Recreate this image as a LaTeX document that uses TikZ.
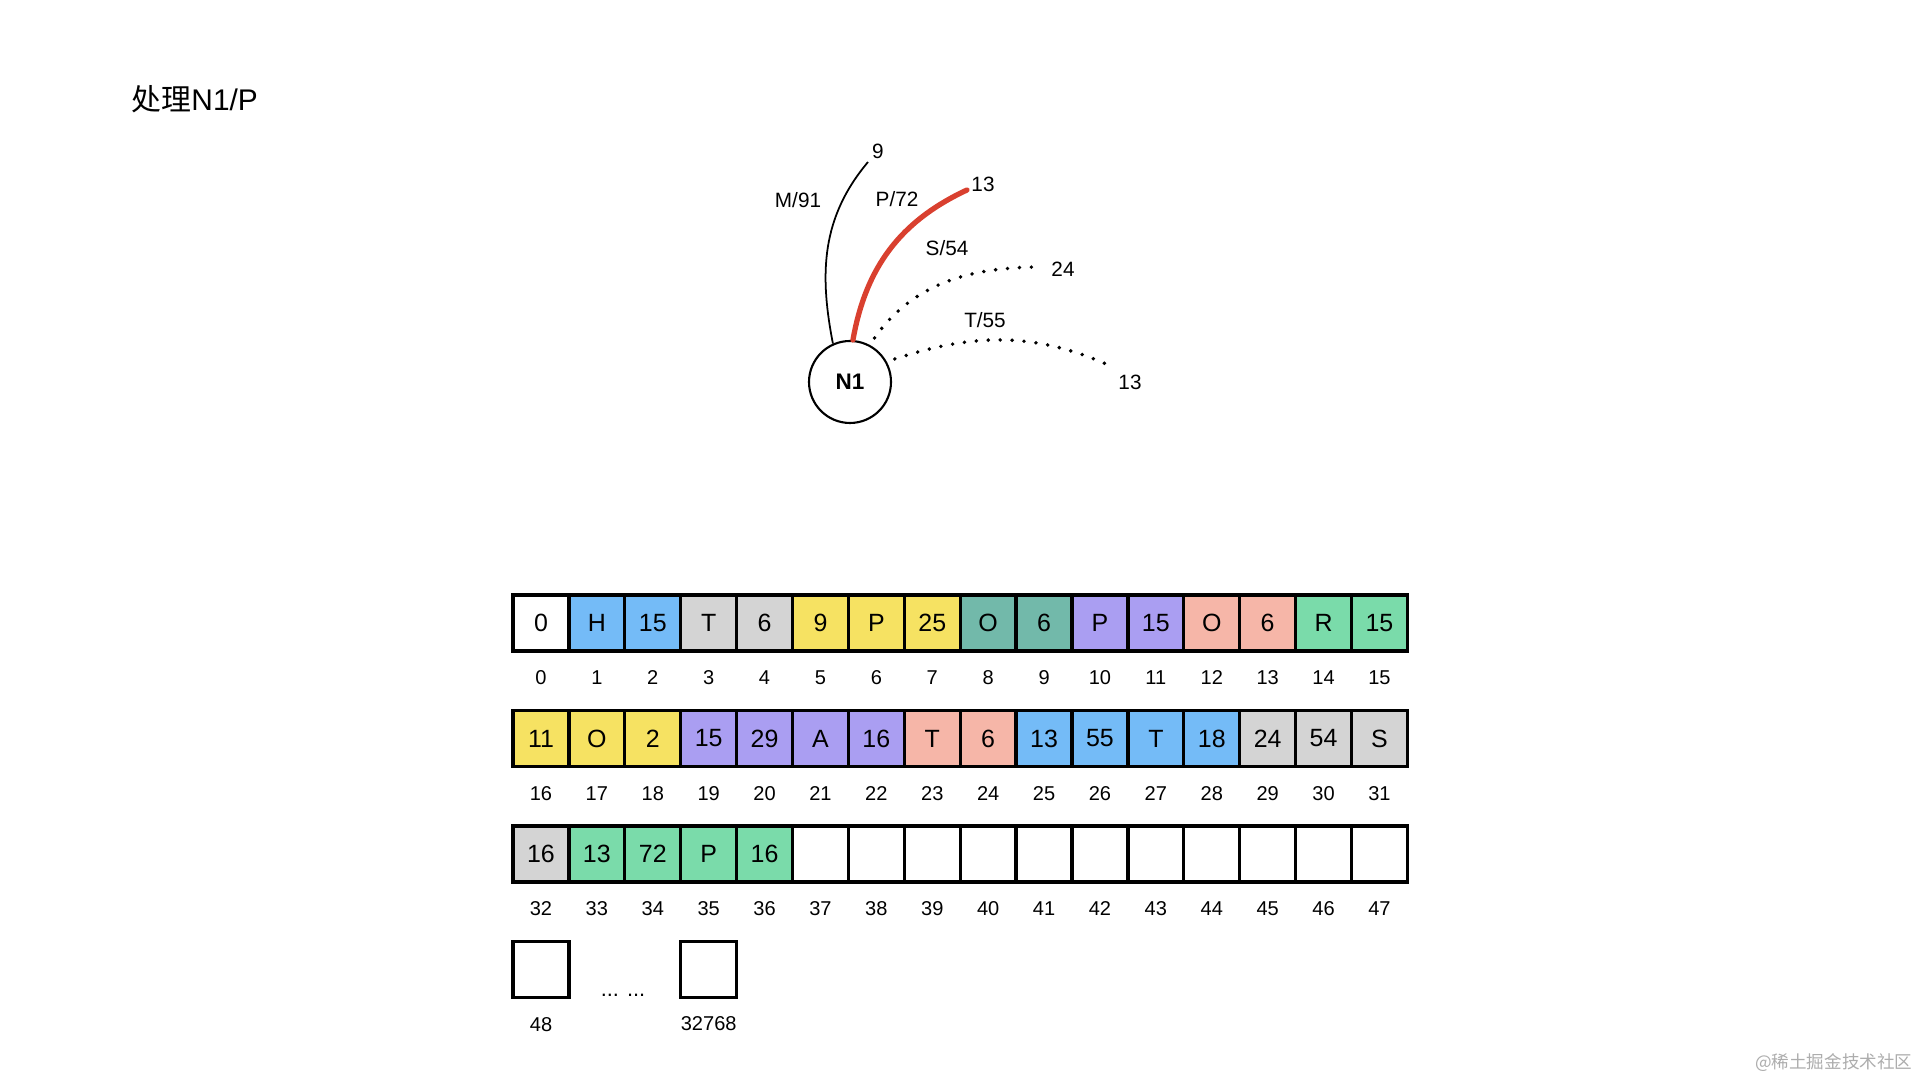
\documentclass[tikz,border=0pt]{standalone}
\usepackage{fontspec}
\setmainfont{Liberation Sans}
\newfontfamily\cjk{Noto Sans CJK SC}
\definecolor{CellBlue}{RGB}{116, 187, 247}
\definecolor{CellGray}{RGB}{212, 212, 212}
\definecolor{CellYellow}{RGB}{246, 226, 98}
\definecolor{CellTeal}{RGB}{114, 185, 170}
\definecolor{CellPurple}{RGB}{170, 158, 242}
\definecolor{CellSalmon}{RGB}{246, 182, 168}
\definecolor{CellGreen}{RGB}{122, 219, 170}
\definecolor{EdgeRed}{RGB}{217, 64, 47}
\usepackage{tikz}
\usetikzlibrary{positioning}

\begin{document}
\begin{tikzpicture}[
    cell/.style={draw, line width=0.95pt, minimum size=0.559cm, inner sep=0pt,
                 font=\fontsize{7.1}{8}\selectfont},
    idx/.style={inner sep=1pt, font=\fontsize{5.7}{6.5}\selectfont},
    lbl/.style={inner sep=1pt, font=\fontsize{5.9}{7}\selectfont},
    dots/.style={line width=1.1pt, line cap=round, dash pattern=on 0pt off 3.4pt}]
        \useasboundingbox (0,0) rectangle (19.2,10.8);
        \fill[white] (0,0) rectangle (19.2,10.8);
        \node[anchor=west, inner sep=0pt, font=\fontsize{8.5}{10}\selectfont] (title)
             at (1.31, 9.81) {{\cjk 处理}N1/P};
        % trie node and its edges
        \node[draw, circle, line width=0.6pt, minimum size=0.82cm, inner sep=0pt,
              font=\bfseries\fontsize{6.4}{7}\selectfont] (n1) at (8.50, 6.98) {N1};
        \node[lbl] (t9)   at (8.78, 9.29)  {9};
        \node[lbl] (tm)   at (7.98, 8.80)  {M/91};
        \node[lbl] (tp)   at (8.97, 8.81)  {P/72};
        \node[lbl] (t13a) at (9.83, 8.96)  {13};
        \node[lbl] (ts)   at (9.47, 8.32)  {S/54};
        \node[lbl] (t24)  at (10.63, 8.11) {24};
        \node[lbl] (tt)   at (9.85, 7.60)  {T/55};
        \node[lbl] (t13b) at (11.30, 6.98) {13};
        \coordinate (mEnd) at (8.68, 9.18);
        \coordinate (pEnd) at (9.67, 8.90);
        \coordinate (sEnd) at (10.42, 8.13);
        \coordinate (tEnd) at (11.15, 7.12);
        \draw[line width=0.5pt] (n1.114) to[out=101, in=230] (mEnd);
        \draw[EdgeRed, line width=1.5pt, line cap=round] (n1.86) to[out=80, in=205] (pEnd);
        \draw[dots, shorten <=2.4pt] (n1.62) to[out=55, in=180] (sEnd);
        \draw[dots, shorten <=2.4pt] (n1.29) to[out=18, in=155] (tEnd);
        % the array
        \foreach \txt/\col [count=\k from 0] in {0/white, H/CellBlue, 15/CellBlue,
            T/CellGray, 6/CellGray, 9/CellYellow, P/CellYellow, 25/CellYellow,
            O/CellTeal, 6/CellTeal, P/CellPurple, 15/CellPurple, O/CellSalmon,
            6/CellSalmon, R/CellGreen, 15/CellGreen,
            11/CellYellow, O/CellYellow, 2/CellYellow, 15/CellPurple, 29/CellPurple,
            A/CellPurple, 16/CellPurple, T/CellSalmon, 6/CellSalmon, 13/CellBlue,
            55/CellBlue, T/CellBlue, 18/CellBlue, 24/CellGray, 54/CellGray, S/CellGray,
            16/CellGray, 13/CellGreen, 72/CellGreen, P/CellGreen, 16/CellGreen} {
            \pgfmathtruncatemacro{\cx}{mod(\k,16)}
            \pgfmathtruncatemacro{\ry}{\k/16}
            \node[cell, fill=\col] (c\k) at ({5.13+0.559*(\cx+0.5)}, {4.57-1.155*\ry}) {\txt};
            \node[idx] (i\k) at ({5.13+0.559*(\cx+0.5)}, {4.02-1.155*\ry}) {\k};
        }
        \foreach \k in {37,...,47} {
            \pgfmathtruncatemacro{\cx}{mod(\k,16)}
            \node[cell, fill=white] (c\k) at ({5.13+0.559*(\cx+0.5)}, 2.26) {};
            \node[idx] (i\k) at ({5.13+0.559*(\cx+0.5)}, 1.71) {\k};
        }
        \node[cell] (c48) at (5.41, 1.105) {};
        \node[idx] (i48) at (5.41, 0.555) {48};
        \node[cell] (cLast) at (7.087, 1.105) {};
        \node[idx] (iLast) at (7.087, 0.565) {32768};
        \node[anchor=base, inner sep=0pt, font=\fontsize{6.2}{7}\selectfont] (gap)
             at (6.23, 0.83) {... ...};
        \node[anchor=east, inner sep=0pt, text=black!32,
              font=\cjk\fontsize{5}{6}\selectfont] (mark) at (19.13, 0.17)
             {@稀土掘金技术社区};
      \end{tikzpicture}
\end{document}
